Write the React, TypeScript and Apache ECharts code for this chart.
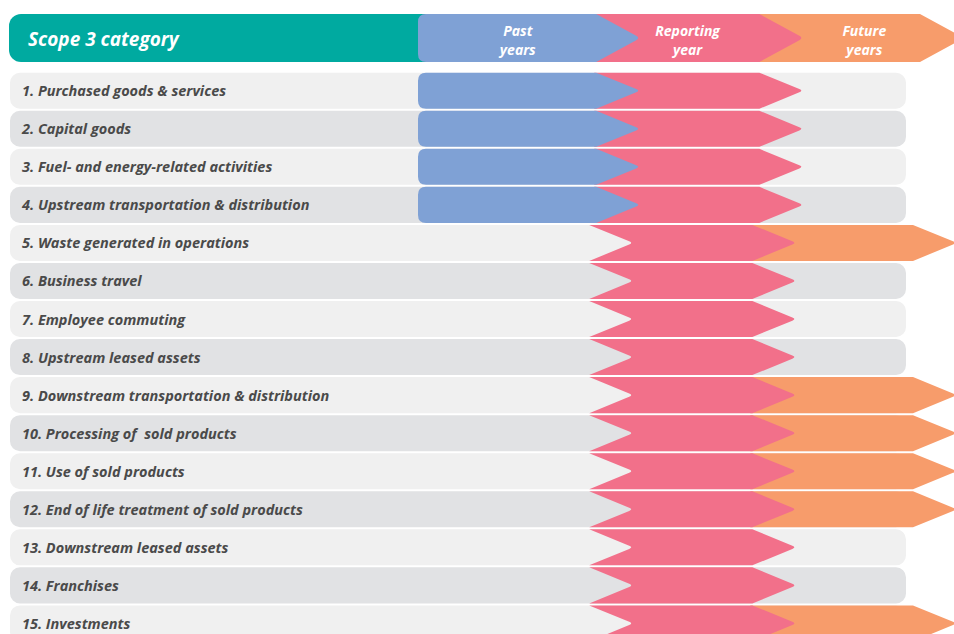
import React, { useEffect, useRef } from "react";
import * as echarts from "echarts";

const categories = [
  "1. Purchased goods & services",
  "2. Capital goods",
  "3. Fuel- and energy-related activities",
  "4. Upstream transportation & distribution",
  "5. Waste generated in operations",
  "6. Business travel",
  "7. Employee commuting",
  "8. Upstream leased assets",
  "9. Downstream transportation & distribution",
  "10. Processing of  sold products",
  "11. Use of sold products",
  "12. End of life treatment of sold products",
  "13. Downstream leased assets",
  "14. Franchises",
  "15. Investments",
];
const headerTitle = "Scope 3 category";
const phaseLines = [
  ["Past", "years"],
  ["Reporting", "year"],
  ["Future", "years"],
];
const phaseBounds = [0, 35.5, 68, 100];
const pastYears = [1, 1, 1, 1, 0, 0, 0, 0, 0, 0, 0, 0, 0, 0, 0];
const reportingYear = [1, 1, 1, 1, 1, 1, 1, 1, 1, 1, 1, 1, 1, 1, 1];
const futureYears = [0, 0, 0, 0, 1, 0, 0, 0, 1, 1, 1, 1, 0, 0, 1];

const phaseColors = ["#7fa1d5", "#f2708a", "#f79c6b"];
const rowColors = ["#f0f0f0", "#e1e2e4"];
const FONT = "'Open Sans', Lato, sans-serif";
const TIP = 44;

function segPath(x0: number, x1: number, yT: number, yB: number, left: string) {
  const d = TIP;
  const yc = (yT + yB) / 2;
  const hh = (yB - yT) / 2;
  const k = 4;
  const ky = (k * hh) / d;
  const r = 8;
  let p = left === "round" ? `M${x0 + r},${yT}` : left === "flat" ? `M${x0 - 2},${yT}` : `M${x0},${yT}`;
  p += `L${x1},${yT}L${x1 + d - k},${yc - ky}Q${x1 + d},${yc} ${x1 + d - k},${yc + ky}L${x1},${yB}`;
  if (left === "round") {
    p += `L${x0 + r},${yB}Q${x0},${yB} ${x0},${yB - r}L${x0},${yT + r}Q${x0},${yT} ${x0 + r},${yT}Z`;
  } else if (left === "notch") {
    p += `L${x0},${yB}L${x0 + d - k},${yc + ky}Q${x0 + d},${yc} ${x0 + d - k},${yc - ky}Z`;
  } else {
    p += `L${x0 - 2},${yB}Z`;
  }
  return p;
}

function buildSegments(api: any, idx: number, flags: number[], yT: number, yB: number, shift: number) {
  const out: any[] = [];
  for (let p = 2; p >= 0; p--) {
    if (!flags[p]) continue;
    const x0 = api.coord([phaseBounds[p], idx])[0] + shift;
    const x1 = api.coord([phaseBounds[p + 1], idx])[0] + shift;
    const left = p === 0 ? "round" : flags[p - 1] ? "flat" : "notch";
    out.push({
      type: "path",
      shape: { pathData: segPath(x0, x1, yT, yB, left) },
      style: { fill: phaseColors[p] },
    });
  }
  return out;
}

export default function App() {
  const ref = useRef<HTMLDivElement>(null);
  useEffect(() => {
    document.body.style.margin = "0";
    if (!ref.current) return;
    const chart = echarts.init(ref.current, null, { renderer: "svg" });
    const rowData = categories.map((_, i) => [0, i, pastYears[i], reportingYear[i], futureYears[i]]);
    const option: any = {
      animation: false,
      grid: [
        { left: 418, width: 502, top: 71.7, height: 570.75, outerBoundsMode: "none" },
        { left: 418, width: 502, top: 14, height: 48, outerBoundsMode: "none" },
      ],
      xAxis: [
        { type: "value", gridIndex: 0, min: 0, max: 100, show: false },
        { type: "value", gridIndex: 1, min: 0, max: 100, show: false },
      ],
      yAxis: [
        {
          type: "category",
          gridIndex: 0,
          data: categories,
          inverse: true,
          z: 10,
          axisLine: { show: false },
          axisTick: { show: false },
          splitLine: { show: false },
          axisLabel: {
            align: "left",
            margin: 396,
            fontFamily: FONT,
            fontStyle: "italic",
            fontWeight: "bold",
            fontSize: 14.5,
            color: "#4a4a4a",
          },
        },
        {
          type: "category",
          gridIndex: 1,
          data: [headerTitle],
          show: false,
        },
      ],
      graphic: {
        elements: [
          {
            type: "rect",
            z: 0,
            shape: { x: 9, y: 14, width: 440, height: 48, r: 12 },
            style: { fill: "#00aaa0" },
          },
          {
            type: "text",
            z: 100,
            x: 28,
            y: 39,
            style: {
              text: headerTitle,
              fill: "#ffffff",
              font: `italic bold 19px ${FONT}`,
              verticalAlign: "middle",
              align: "left",
            },
          },
        ],
      },
      series: [
        {
          type: "custom",
          xAxisIndex: 0,
          yAxisIndex: 0,
          clip: false,
          z: 2,
          encode: { x: 0, y: 1 },
          data: rowData,
          renderItem: (params: any, api: any) => {
            const i = api.value(1);
            const band = api.size([0, 1])[1];
            const yc = api.coord([0, i])[1];
            const h = band - 2;
            const yT = yc - h / 2;
            const yB = yc + h / 2;
            const flags = [api.value(2), api.value(3), api.value(4)];
            const shift = flags[0] ? 0 : -7;
            const children: any[] = [
              {
                type: "rect",
                shape: { x: 10, y: yT, width: 896, height: h, r: 10 },
                style: { fill: rowColors[i % 2] },
              },
              ...buildSegments(api, i, flags, yT, yB, shift),
            ];
            return { type: "group", children };
          },
        },
        {
          type: "custom",
          xAxisIndex: 1,
          yAxisIndex: 1,
          clip: false,
          z: 3,
          encode: { x: 0, y: 1 },
          data: [[0, 0]],
          renderItem: (params: any, api: any) => {
            const band = api.size([0, 1])[1];
            const yc = api.coord([0, 0])[1];
            const yT = yc - band / 2;
            const yB = yc + band / 2;
            const flags = [1, 1, 1];
            const children: any[] = buildSegments(api, 0, flags, yT, yB, 0);
            for (let p = 0; p < 3; p++) {
              const x0 = api.coord([phaseBounds[p], 0])[0];
              const x1 = api.coord([phaseBounds[p + 1], 0])[0];
              const cx = x0 + (x1 - x0) * 0.56 + (p === 2 ? 15 : 0);
              phaseLines[p].forEach((line, li) => {
                children.push({
                  type: "text",
                  x: cx,
                  y: yc - 7.5 + li * 19,
                  style: {
                    text: line,
                    fill: "#ffffff",
                    font: `italic bold 14px ${FONT}`,
                    align: "center",
                    verticalAlign: "middle",
                  },
                });
              });
            }
            return { type: "group", children };
          },
        },
      ],
    };
    chart.setOption(option);
    return () => chart.dispose();
  }, []);
  return <div ref={ref} style={{ width: 954, height: 634 }} />;
}
